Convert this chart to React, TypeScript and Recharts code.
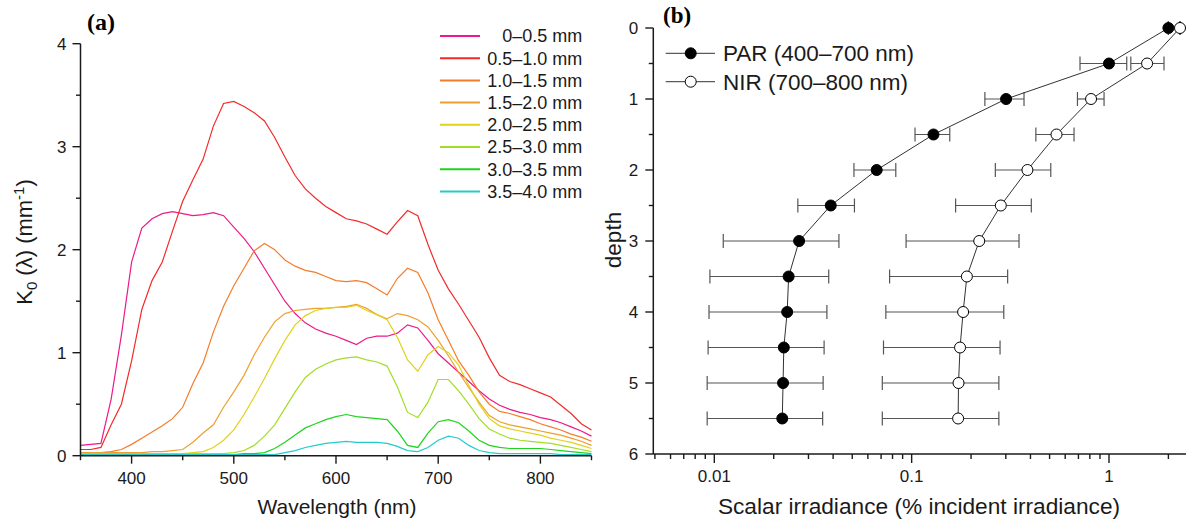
import React from 'react';
import {
  LineChart,
  Line,
  XAxis,
  YAxis,
  ScatterChart,
  Scatter,
  ErrorBar,
  Legend,
  Label,
} from 'recharts';

// ---------------- Panel (a) data ----------------
const wavelengths = [
  350, 360, 370, 380, 390, 400, 410, 420, 430, 440,
  450, 460, 470, 480, 490, 500, 510, 520, 530, 540,
  550, 560, 570, 580, 590, 600, 610, 620, 630, 640,
  650, 660, 670, 680, 690, 700, 710, 720, 730, 740,
  750, 760, 770, 780, 790, 800, 810, 820, 830, 840,
  850,
];

const k0_00_05 = [
  0.10, 0.11, 0.12, 0.55, 1.17, 1.88, 2.21, 2.30, 2.35, 2.37,
  2.35, 2.33, 2.34, 2.36, 2.33, 2.22, 2.11, 1.98, 1.82, 1.66,
  1.50, 1.38, 1.29, 1.23, 1.19, 1.16, 1.12, 1.08, 1.14, 1.16,
  1.16, 1.19, 1.27, 1.24, 1.12, 0.99, 0.90, 0.81, 0.72, 0.63,
  0.55, 0.49, 0.45, 0.42, 0.40, 0.37, 0.35, 0.32, 0.28, 0.24,
  0.19,
];
const k0_05_10 = [
  0.06, 0.06, 0.08, 0.30, 0.50, 0.92, 1.42, 1.70, 1.88, 2.18,
  2.47, 2.68, 2.88, 3.20, 3.42, 3.44, 3.39, 3.33, 3.25, 3.09,
  2.90, 2.72, 2.59, 2.50, 2.42, 2.36, 2.30, 2.28, 2.25, 2.20,
  2.15, 2.27, 2.38, 2.33, 2.05, 1.80, 1.62, 1.47, 1.31, 1.15,
  0.95, 0.78, 0.72, 0.69, 0.65, 0.61, 0.57, 0.49, 0.41, 0.31,
  0.25,
];
const k0_10_15 = [
  0.03, 0.03, 0.03, 0.04, 0.06, 0.11, 0.17, 0.23, 0.29, 0.36,
  0.47, 0.70, 0.90, 1.20, 1.45, 1.65, 1.82, 1.99, 2.06, 2.00,
  1.90, 1.84, 1.80, 1.78, 1.74, 1.70, 1.69, 1.70, 1.68, 1.62,
  1.56, 1.72, 1.82, 1.78, 1.58, 1.32, 1.12, 0.92, 0.78, 0.62,
  0.50, 0.43, 0.41, 0.38, 0.35, 0.31, 0.28, 0.25, 0.21, 0.18,
  0.14,
];
const k0_15_20 = [
  0.03, 0.03, 0.03, 0.03, 0.03, 0.03, 0.03, 0.04, 0.04, 0.05,
  0.06, 0.13, 0.22, 0.30, 0.47, 0.62, 0.78, 0.98, 1.15, 1.30,
  1.38, 1.41, 1.42, 1.43, 1.43, 1.44, 1.45, 1.47, 1.43, 1.37,
  1.33, 1.38, 1.36, 1.32, 1.25, 1.12, 0.97, 0.81, 0.66, 0.52,
  0.39, 0.33, 0.30, 0.28, 0.26, 0.24, 0.22, 0.20, 0.17, 0.14,
  0.10,
];
const k0_20_25 = [
  0.02, 0.02, 0.02, 0.02, 0.02, 0.02, 0.02, 0.02, 0.02, 0.02,
  0.02, 0.03, 0.04, 0.08, 0.15, 0.25, 0.40, 0.57, 0.75, 0.94,
  1.12, 1.27, 1.36, 1.41, 1.43, 1.44, 1.44, 1.46, 1.41, 1.37,
  1.32, 1.15, 0.93, 0.82, 0.98, 1.06, 1.00, 0.88, 0.68, 0.50,
  0.36, 0.29, 0.26, 0.24, 0.22, 0.20, 0.17, 0.15, 0.13, 0.10,
  0.07,
];
const k0_25_30 = [
  0.02, 0.02, 0.02, 0.02, 0.02, 0.02, 0.02, 0.02, 0.02, 0.02,
  0.02, 0.02, 0.02, 0.02, 0.02, 0.03, 0.05, 0.10, 0.19, 0.30,
  0.46, 0.62, 0.76, 0.84, 0.89, 0.93, 0.95, 0.96, 0.93, 0.91,
  0.87, 0.67, 0.42, 0.37, 0.52, 0.74, 0.74, 0.63, 0.50, 0.36,
  0.26, 0.21, 0.17, 0.15, 0.14, 0.13, 0.12, 0.10, 0.08, 0.06,
  0.04,
];
const k0_30_35 = [
  0.01, 0.01, 0.01, 0.01, 0.01, 0.01, 0.01, 0.01, 0.01, 0.01,
  0.01, 0.01, 0.01, 0.01, 0.01, 0.01, 0.02, 0.02, 0.03, 0.07,
  0.13, 0.20, 0.27, 0.31, 0.35, 0.38, 0.40, 0.38, 0.37, 0.36,
  0.35, 0.24, 0.10, 0.08, 0.22, 0.33, 0.35, 0.32, 0.24, 0.15,
  0.10, 0.08, 0.07, 0.07, 0.07, 0.07, 0.06, 0.05, 0.04, 0.03,
  0.02,
];
const k0_35_40 = [
  0.01, 0.01, 0.01, 0.01, 0.01, 0.01, 0.01, 0.01, 0.01, 0.01,
  0.01, 0.01, 0.01, 0.01, 0.01, 0.01, 0.01, 0.01, 0.01, 0.01,
  0.03, 0.05, 0.08, 0.10, 0.12, 0.13, 0.14, 0.13, 0.13, 0.13,
  0.12, 0.09, 0.05, 0.04, 0.08, 0.15, 0.19, 0.17, 0.10, 0.05,
  0.03, 0.02, 0.02, 0.02, 0.02, 0.02, 0.02, 0.01, 0.01, 0.01,
  0.01,
];

const layerLabels = [
  '0–0.5 mm',
  '0.5–1.0 mm',
  '1.0–1.5 mm',
  '1.5–2.0 mm',
  '2.0–2.5 mm',
  '2.5–3.0 mm',
  '3.0–3.5 mm',
  '3.5–4.0 mm',
];
const layerSeries = [
  k0_00_05, k0_05_10, k0_10_15, k0_15_20,
  k0_20_25, k0_25_30, k0_30_35, k0_35_40,
];

const xTicksA = [350, 400, 450, 500, 550, 600, 650, 700, 750, 800, 850];
const yTicksA = [0, 0.5, 1, 1.5, 2, 2.5, 3, 3.5, 4];

// ---------------- Panel (b) data ----------------
const depths = [0, 0.5, 1, 1.5, 2, 2.5, 3, 3.5, 4, 4.5, 5, 5.5];
const parValues = [2.0, 1.0, 0.301, 0.129, 0.0665, 0.0389, 0.0269, 0.0238, 0.0234, 0.0225, 0.0223, 0.0221];
const parLow = [2.0, 0.713, 0.235, 0.104, 0.051, 0.0265, 0.0111, 0.0095, 0.0094, 0.0093, 0.0092, 0.0092];
const parHigh = [2.0, 1.23, 0.371, 0.156, 0.0831, 0.0513, 0.0428, 0.038, 0.0372, 0.036, 0.0356, 0.0354];
const nirValues = [2.29, 1.56, 0.811, 0.542, 0.386, 0.283, 0.22, 0.1905, 0.1823, 0.1759, 0.1728, 0.172];
const nirLow = [2.29, 1.29, 0.692, 0.426, 0.2655, 0.167, 0.0937, 0.0773, 0.074, 0.072, 0.071, 0.071];
const nirHigh = [2.29, 1.9, 0.944, 0.665, 0.507, 0.404, 0.35, 0.3065, 0.293, 0.2805, 0.2766, 0.2766];

const xTicksB = [
  0.005, 0.006, 0.007, 0.008, 0.009,
  0.01, 0.02, 0.03, 0.04, 0.05, 0.06, 0.07, 0.08, 0.09,
  0.1, 0.2, 0.3, 0.4, 0.5, 0.6, 0.7, 0.8, 0.9,
  1, 2,
];
const xMajorB = [0.01, 0.1, 1];
const yTicksB = [0, 0.5, 1, 1.5, 2, 2.5, 3, 3.5, 4, 4.5, 5, 5.5, 6];
const seriesNamesB = ['PAR (400–700 nm)', 'NIR (700–800 nm)'];

// ---------------- styles ----------------
const FONT = '"Liberation Sans", Arial, Helvetica, sans-serif';
const SERIF = '"Liberation Serif", "Times New Roman", serif';
const INK = '#1a1a1a';
const layerColors = [
  '#ec1a8a', '#f42a2a', '#f57c2a', '#eda02e',
  '#e0d21c', '#a2de26', '#1fd41f', '#22cccc',
];

const spectraData = wavelengths.map((wl, i) => {
  const row: Record<string, number> = { wl };
  layerSeries.forEach((s, j) => {
    row['s' + j] = s[i];
  });
  return row;
});

const parData = depths.map((d, i) => ({
  x: parValues[i],
  y: d,
  err: [parValues[i] - parLow[i], parHigh[i] - parValues[i]],
}));
const nirData = depths.map((d, i) => ({
  x: nirValues[i],
  y: d,
  err: [nirValues[i] - nirLow[i], nirHigh[i] - nirValues[i]],
}));

// ---------------- tick renderers ----------------
const XTickA = (p: any) => {
  const v = p.payload.value;
  const major = v % 100 === 0;
  return (
    <g>
      <line x1={p.x} x2={p.x} y1={p.y} y2={p.y + (major ? 8 : 4.5)} stroke={INK} strokeWidth={1.4} />
      {major && (
        <text x={p.x} y={p.y + 28} textAnchor="middle" fontSize={17} fontFamily={FONT} fill={INK}>
          {v}
        </text>
      )}
    </g>
  );
};
const YTickA = (p: any) => {
  const v = p.payload.value;
  const major = Number.isInteger(v);
  return (
    <g>
      <line x1={p.x} x2={p.x - (major ? 8 : 4.5)} y1={p.y} y2={p.y} stroke={INK} strokeWidth={1.4} />
      {major && (
        <text x={p.x - 14} y={p.y + 6} textAnchor="end" fontSize={17} fontFamily={FONT} fill={INK}>
          {v}
        </text>
      )}
    </g>
  );
};
const XTickB = (p: any) => {
  const v = p.payload.value;
  const major = xMajorB.some((m) => Math.abs(m - v) < 1e-9);
  return (
    <g>
      <line x1={p.x} x2={p.x} y1={p.y} y2={p.y + (major ? 9 : 5)} stroke={INK} strokeWidth={1.4} />
      {major && (
        <text x={p.x} y={p.y + 28} textAnchor="middle" fontSize={17} fontFamily={FONT} fill={INK}>
          {String(v)}
        </text>
      )}
    </g>
  );
};
const YTickB = (p: any) => {
  const v = p.payload.value;
  const major = Number.isInteger(v);
  return (
    <g>
      <line x1={p.x} x2={p.x - (major ? 8 : 4.5)} y1={p.y} y2={p.y} stroke={INK} strokeWidth={1.4} />
      {major && (
        <text x={p.x - 15} y={p.y + 6} textAnchor="end" fontSize={17} fontFamily={FONT} fill={INK}>
          {v}
        </text>
      )}
    </g>
  );
};

const LegendA = () => (
  <svg width={170} height={190} style={{ display: 'block' }}>
    {layerLabels.map((lab, i) => {
      const cy = 16 + i * 22.2;
      return (
        <g key={lab}>
          <line x1={10} x2={50} y1={cy} y2={cy} stroke={layerColors[i]} strokeWidth={2} />
          <text x={152.3} y={cy + 6.3} textAnchor="end" fontSize={18} fontFamily={FONT} fill={INK}>
            {lab}
          </text>
        </g>
      );
    })}
  </svg>
);

const LegendB = () => (
  <svg width={270} height={70} style={{ display: 'block' }}>
    {seriesNamesB.map((lab, i) => {
      const cy = 18.3 + i * 28.4;
      return (
        <g key={lab}>
          <line x1={15.7} x2={65} y1={cy} y2={cy} stroke="#333" strokeWidth={1} />
          <circle cx={40.7} cy={cy} r={5.5} fill={i === 0 ? '#000' : '#fff'} stroke="#000" strokeWidth={1} />
          <text x={73} y={cy + 8} fontSize={22.5} fontFamily={FONT} fill={INK}>
            {lab}
          </text>
        </g>
      );
    })}
  </svg>
);

const dotFilled = (p: any) => <circle cx={p.cx} cy={p.cy} r={5.5} fill="#000" stroke="#000" strokeWidth={1} />;
const dotOpen = (p: any) => <circle cx={p.cx} cy={p.cy} r={5.5} fill="#fff" stroke="#000" strokeWidth={1} />;

export default function App() {
  return (
    <div style={{ position: 'absolute', left: 0, top: 0, width: 1186, height: 522, background: '#fff', overflow: 'hidden' }}>
      {/* Panel (a) */}
      <div style={{ position: 'absolute', left: 0, top: 0 }}>
        <LineChart
          width={600}
          height={522}
          data={spectraData}
          margin={{ top: 43.7, right: 8.5, left: 20.5, bottom: 26.3 }}
        >
          <XAxis
            dataKey="wl"
            type="number"
            domain={[350, 850]}
            ticks={xTicksA}
            interval={0}
            tickSize={0}
            tickMargin={0}
            tickLine={false}
            height={40}
            axisLine={{ stroke: INK, strokeWidth: 1.5 }}
            tick={(p: any) => <XTickA {...p} />}
          >
            <Label
              content={() => (
                <text x={337} y={514} textAnchor="middle" fontSize={21} fontFamily={FONT} fill={INK}>
                  Wavelength (nm)
                </text>
              )}
            />
          </XAxis>
          <YAxis
            type="number"
            domain={[0, 4]}
            ticks={yTicksA}
            interval={0}
            tickSize={0}
            tickMargin={0}
            tickLine={false}
            width={60}
            axisLine={{ stroke: INK, strokeWidth: 1.5 }}
            tick={(p: any) => <YTickA {...p} />}
          >
            <Label
              content={() => (
                <text transform="translate(32,242) rotate(-90)" textAnchor="middle" fontSize={22} fontFamily={FONT} fill={INK}>
                  K<tspan fontSize={15} dy={5}>0</tspan>
                  <tspan dy={-5}> (λ) (mm</tspan>
                  <tspan fontSize={15} dy={-8}>-1</tspan>
                  <tspan dy={8}>)</tspan>
                </text>
              )}
            />
          </YAxis>
          <Legend
            layout="horizontal"
            verticalAlign="middle"
            align="center"
            wrapperStyle={{ left: 430, top: 20, width: 170, height: 190 }}
            content={() => <LegendA />}
          />
          {layerLabels.map((lab, j) => (
            <Line
              key={lab}
              name={lab}
              dataKey={'s' + j}
              type="linear"
              stroke={layerColors[j]}
              strokeWidth={1.2}
              dot={false}
              activeDot={false}
              isAnimationActive={false}
            />
          ))}
        </LineChart>
        <div
          style={{
            position: 'absolute',
            left: 87,
            top: 8,
            fontFamily: SERIF,
            fontWeight: 'bold',
            fontSize: 24,
            lineHeight: '28px',
            color: '#000',
          }}
        >
          (a)
        </div>
      </div>

      {/* Panel (b) */}
      <div style={{ position: 'absolute', left: 600, top: 0 }}>
        <ScatterChart width={586} height={522} margin={{ top: 28, right: 0, left: 8.3, bottom: 28 }}>
          <XAxis
            dataKey="x"
            type="number"
            scale="log"
            domain={[0.004907, 2.456]}
            ticks={xTicksB}
            interval={0}
            tickSize={0}
            tickMargin={0}
            tickLine={false}
            height={40}
            axisLine={{ stroke: INK, strokeWidth: 1.5 }}
            tick={(p: any) => <XTickB {...p} />}
          >
            <Label
              content={() => (
                <text x={319} y={514} textAnchor="middle" fontSize={22.7} fontFamily={FONT} fill={INK}>
                  Scalar irradiance (% incident irradiance)
                </text>
              )}
            />
          </XAxis>
          <YAxis
            dataKey="y"
            type="number"
            reversed
            domain={[0, 6]}
            ticks={yTicksB}
            interval={0}
            tickSize={0}
            tickMargin={0}
            tickLine={false}
            width={45}
            axisLine={{ stroke: INK, strokeWidth: 1.5 }}
            tick={(p: any) => <YTickB {...p} />}
          >
            <Label
              content={() => (
                <text transform="translate(21,240) rotate(-90)" textAnchor="middle" fontSize={22.5} fontFamily={FONT} fill={INK}>
                  depth
                </text>
              )}
            />
          </YAxis>
          <Legend
            layout="horizontal"
            verticalAlign="middle"
            align="center"
            wrapperStyle={{ left: 50, top: 35, width: 270, height: 70 }}
            content={() => <LegendB />}
          />
          <Scatter
            name={seriesNamesB[0]}
            data={parData}
            line={{ stroke: '#333', strokeWidth: 1 }}
            lineType="joint"
            shape={dotFilled}
            isAnimationActive={false}
          >
            <ErrorBar dataKey="err" direction="x" width={7} stroke="#555" strokeWidth={1.2} />
          </Scatter>
          <Scatter
            name={seriesNamesB[1]}
            data={nirData}
            line={{ stroke: '#333', strokeWidth: 1 }}
            lineType="joint"
            shape={dotOpen}
            isAnimationActive={false}
          >
            <ErrorBar dataKey="err" direction="x" width={7} stroke="#555" strokeWidth={1.2} />
          </Scatter>
        </ScatterChart>
        <div
          style={{
            position: 'absolute',
            left: 63,
            top: 2,
            fontFamily: SERIF,
            fontWeight: 'bold',
            fontSize: 23,
            lineHeight: '28px',
            color: '#000',
          }}
        >
          (b)
        </div>
      </div>
    </div>
  );
}
